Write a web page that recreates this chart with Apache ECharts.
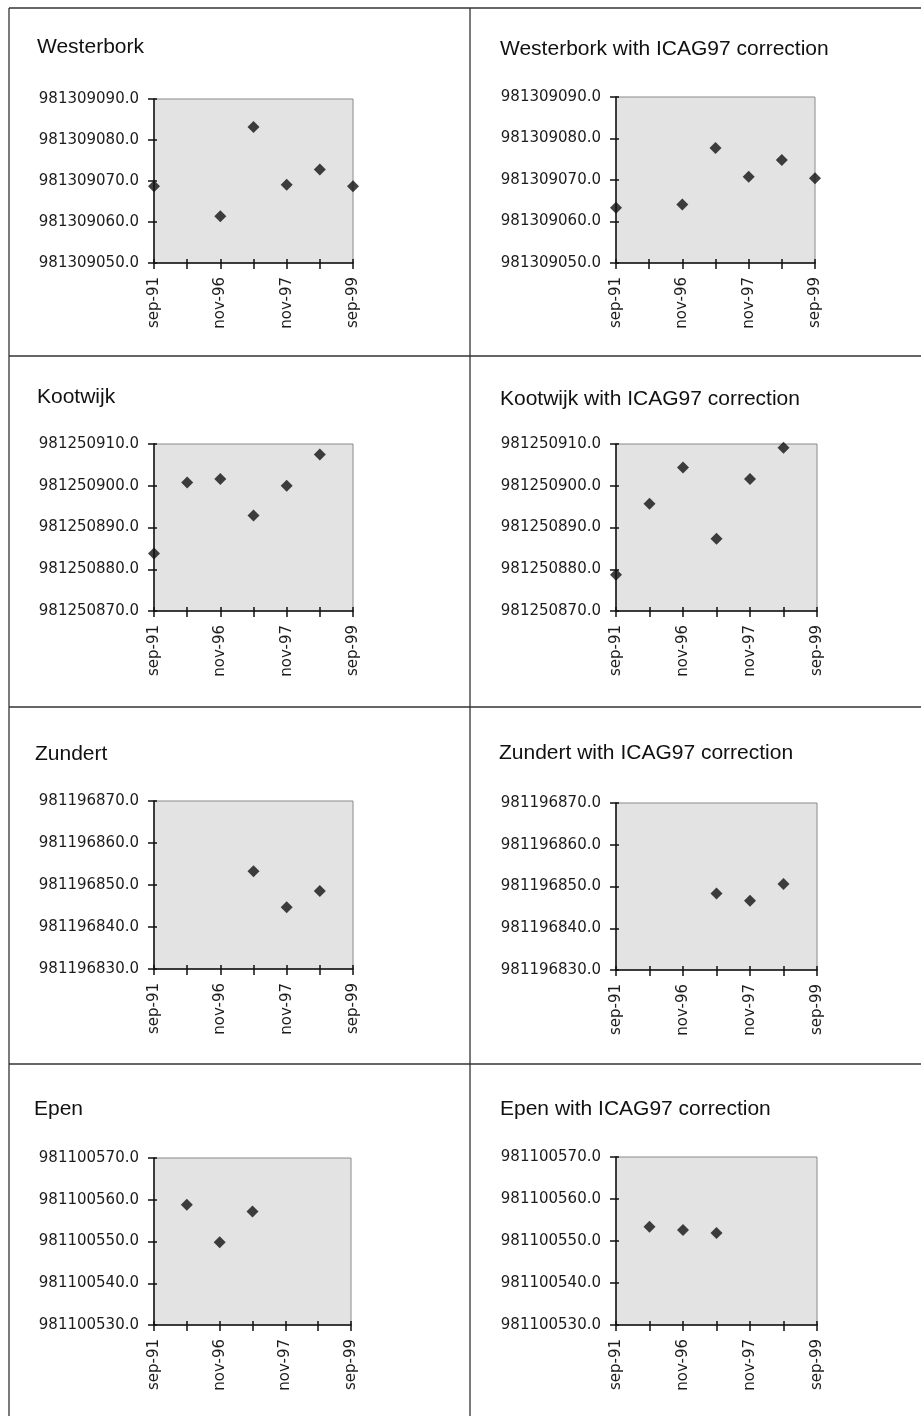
<!DOCTYPE html>
<html>
<head>
<meta charset="utf-8">
<script src="https://cdn.jsdelivr.net/npm/echarts@6/dist/echarts.min.js"></script>
<style>
html,body{margin:0;padding:0;background:#fff;}
#chart{width:921px;height:1416px;}
</style>
</head>
<body>
<div id="chart"></div>
<script>
// ---- data ----
const categories = ['sep-91', 'may-96', 'nov-96', 'may-97', 'nov-97', 'may-98', 'sep-99'];
const titles = [
  'Westerbork', 'Westerbork with ICAG97 correction',
  'Kootwijk', 'Kootwijk with ICAG97 correction',
  'Zundert', 'Zundert with ICAG97 correction',
  'Epen', 'Epen with ICAG97 correction'
];
const westerbork     = [981309068.7, null, 981309061.4, 981309083.2, 981309069.1, 981309072.8, 981309068.7];
const westerborkICAG = [981309063.3, null, 981309064.1, 981309077.7, 981309070.8, 981309074.8, 981309070.4];
const kootwijk       = [981250883.8, 981250900.8, 981250901.6, 981250892.9, 981250900.0, 981250907.5, null];
const kootwijkICAG   = [981250878.7, 981250895.7, 981250904.4, 981250887.3, 981250901.6, 981250909.1, null];
const zundert        = [null, null, null, 981196853.3, 981196844.7, 981196848.6, null];
const zundertICAG    = [null, null, null, 981196848.3, 981196846.6, 981196850.6, null];
const epen           = [null, 981100558.8, 981100549.8, 981100557.2, null, null, null];
const epenICAG       = [null, 981100553.4, 981100552.6, 981100551.9, null, null, null];
const yMins = [981309050, 981309050, 981250870, 981250870, 981196830, 981196830, 981100530, 981100530];
const yMaxs = [981309090, 981309090, 981250910, 981250910, 981196870, 981196870, 981100570, 981100570];
const yStep = 10;

const seriesData = [westerbork, westerborkICAG, kootwijk, kootwijkICAG, zundert, zundertICAG, epen, epenICAG];

// ---- layout ----
const gridBoxes = [
  {left: 154, top: 99,   width: 199, height: 164},
  {left: 616, top: 97,   width: 199, height: 166},
  {left: 154, top: 444,  width: 199, height: 167},
  {left: 616, top: 444,  width: 201, height: 167},
  {left: 154, top: 801,  width: 199, height: 168},
  {left: 616, top: 803,  width: 201, height: 167},
  {left: 154, top: 1158, width: 197, height: 167},
  {left: 616, top: 1157, width: 201, height: 168}
];
const titlePos = [
  [37, 50], [500, 52], [37, 400], [500, 402],
  [35, 757], [499, 756], [34, 1112], [500, 1112]
];

const labelFont = {fontFamily: 'DejaVu Sans', fontSize: 15, color: '#1c1c1c'};
const grid = [], xAxis = [], yAxis = [], series = [], graphic = [];

gridBoxes.forEach((b, i) => {
  grid.push(Object.assign({show: true, backgroundColor: '#e3e3e3', borderColor: '#8a8a8a', borderWidth: 1, containLabel: false}, b));
  // main x axis (outer ticks + labels)
  xAxis.push({
    gridIndex: i, type: 'category', data: categories, boundaryGap: false, position: 'bottom',
    axisLine: {show: true, onZero: false, lineStyle: {color: '#111', width: 1.5}},
    axisTick: {show: true, inside: false, length: 6, interval: 0, lineStyle: {color: '#111', width: 1.5}},
    axisLabel: Object.assign({show: true, rotate: 90, interval: 1, margin: 14}, labelFont),
    splitLine: {show: false}
  });
  // companion x axis (inner half of the crossing ticks)
  xAxis.push({
    gridIndex: i, type: 'category', data: categories, boundaryGap: false, position: 'bottom',
    axisLine: {show: false, onZero: false},
    axisTick: {show: true, inside: true, length: 4, interval: 0, lineStyle: {color: '#111', width: 1.5}},
    axisLabel: {show: false}, splitLine: {show: false}
  });
  yAxis.push({
    gridIndex: i, type: 'value', min: yMins[i], max: yMaxs[i], interval: yStep, position: 'left',
    axisLine: {show: true, onZero: false, lineStyle: {color: '#111', width: 1.5}},
    axisTick: {show: true, inside: false, length: 6, lineStyle: {color: '#111', width: 1.5}},
    axisLabel: Object.assign({show: true, margin: 15, formatter: v => v.toFixed(1)}, labelFont),
    splitLine: {show: false}
  });
  yAxis.push({
    gridIndex: i, type: 'value', min: yMins[i], max: yMaxs[i], interval: yStep, position: 'left',
    axisLine: {show: false, onZero: false},
    axisTick: {show: true, inside: true, length: 3, lineStyle: {color: '#111', width: 1.5}},
    axisLabel: {show: false}, splitLine: {show: false}
  });
  series.push({
    type: 'scatter', name: titles[i], xAxisIndex: 2 * i, yAxisIndex: 2 * i,
    data: seriesData[i], symbol: 'diamond', symbolSize: 12, clip: false,
    itemStyle: {color: '#111'}, z: 5
  });
  graphic.push({
    type: 'text', left: titlePos[i][0], top: titlePos[i][1] - 13,
    style: {text: titles[i], fontFamily: 'Liberation Sans', fontSize: 21, fill: '#111'}
  });
});

// cell borders
const lineStyle = {stroke: '#333', lineWidth: 1.3};
const lines = [
  [9, 8, 921, 8], [9, 8, 9, 1416], [470, 8, 470, 1416],
  [9, 356, 921, 356], [9, 707, 921, 707], [9, 1064, 921, 1064]
];
lines.forEach(l => graphic.push({type: 'line', shape: {x1: l[0], y1: l[1], x2: l[2], y2: l[3]}, style: lineStyle, silent: true}));

const chart = echarts.init(document.getElementById('chart'), null, {renderer: 'canvas'});
chart.setOption({animation: false, backgroundColor: '#fff', grid, xAxis, yAxis, series, graphic});
</script>
</body>
</html>
